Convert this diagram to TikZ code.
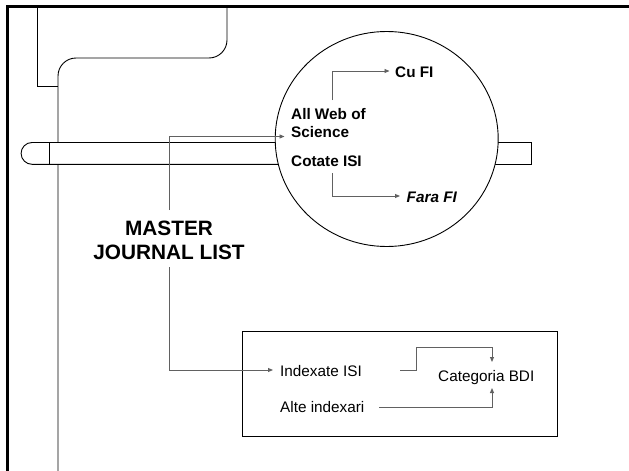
\documentclass[tikz,border=0pt]{standalone}
\usepackage{fontspec}
\setmainfont{Liberation Sans}
\usetikzlibrary{arrows.meta,shapes.geometric}
\begin{document}
\begin{tikzpicture}[x=1pt,y=-1pt,
  outline/.style={draw=black, line width=0.9pt},
  conn/.style={draw=black!62, line width=0.9pt},
  arr/.style={conn,-{Triangle[length=5pt,width=4pt]}},
  lbl/.style={anchor=base west, inner sep=0pt, font=\fontsize{15.3}{18.3}\selectfont},
  blbl/.style={lbl, font=\fontsize{15.3}{18.3}\selectfont\bfseries},
  title/.style={anchor=base, inner sep=0pt, font=\fontsize{20.8}{24}\selectfont\bfseries},
]
\useasboundingbox (0,0) rectangle (629,471);

% top-left bracket and long vertical
\draw[outline] (37,6) -- (37,86) -- (58,86);
\draw[outline, rounded corners=18pt] (58,471) -- (58,58) -- (227,58) -- (227,6);

% tubes
\draw[outline, fill=white] (300,142.5) -- (32,142.5) arc[start angle=270, end angle=90, radius=10.9] -- (300,164.3);
\draw[outline] (49,142.5) -- (49,164.3);
\draw[outline, fill=white] (470,142) rectangle (531,164);

% circle
\node[outline, fill=white, ellipse, minimum width=223pt, minimum height=215pt, inner sep=0pt] (circ) at (386.7,139) {};

% circle labels
\node[blbl] (cufi) at (395,77.3) {Cu FI};
\node[blbl] (aws1) at (291,119) {All Web of};
\node[blbl] (aws2) at (291,137.3) {Science};
\node[blbl] (cot) at (291,166) {Cotate ISI};
\node[blbl] (fara) at (406.5,202.7) {\itshape Fara FI};

% title
\node[title] (mjl1) at (169,235) {MASTER};
\node[title] (mjl2) at (169,259.3) {JOURNAL LIST};

% lower box
\node[draw=black, line width=1.1pt, minimum width=315.5pt, minimum height=104.5pt, inner sep=0pt] (box) at (399.8,383.8) {};
\node[lbl] (idx) at (280,376) {Indexate ISI};
\node[lbl] (alte) at (280,412.7) {Alte indexari};
\node[lbl] (cat) at (438,381.7) {Categoria BDI};

% connector end points
\coordinate (mjltop) at (169,210);
\coordinate (mjlbot) at (169,267);
\coordinate (sciin) at (284.5,136.5);
\coordinate (idxin) at (273,370);
\coordinate (awsup) at (332,100);
\coordinate (cotdn) at (332,173);
\coordinate (cuin) at (389.5,71);
\coordinate (farain) at (400,196);
\coordinate (idxout) at (400,370);
\coordinate (alteout) at (379,407);
\coordinate (cattop) at (492,362);
\coordinate (catbot) at (492,388);

% connectors
\draw[arr] (mjltop) |- (sciin);
\draw[arr] (mjlbot) |- (idxin);
\draw[arr] (awsup) |- (cuin);
\draw[arr] (cotdn) |- (farain);
\draw[arr] (idxout) -- (416,370) |- (492,347) -- (cattop);
\draw[arr] (alteout) -| (catbot);

% frame
\draw[line width=2.6pt] (7.2,471) -- (7.2,6.6) -- (629,6.6);
\end{tikzpicture}
\end{document}
